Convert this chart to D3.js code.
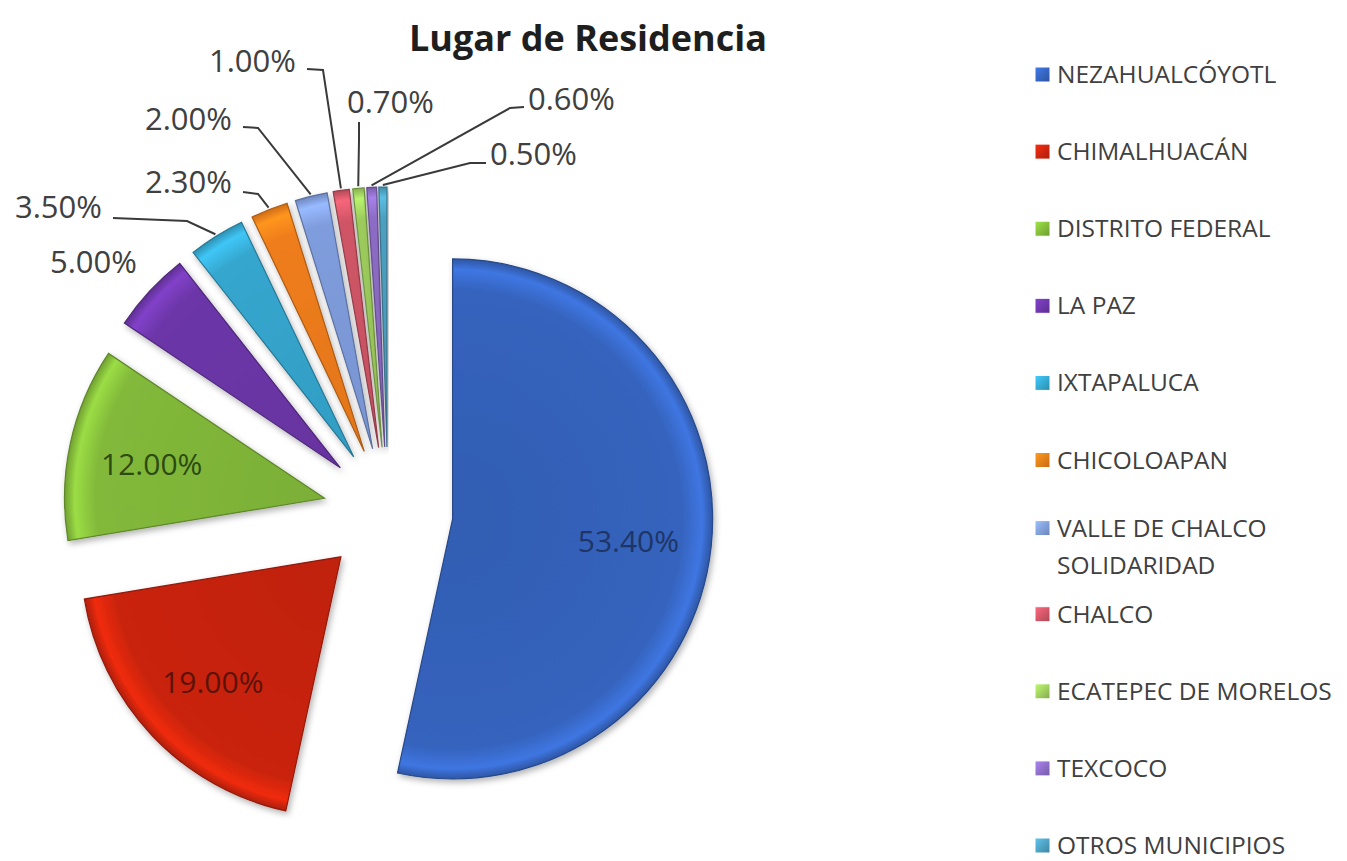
<!DOCTYPE html>
<html>
<head>
<meta charset="utf-8">
<script src="https://d3js.org/d3.v7.min.js"></script>
<style>
  body { margin: 0; background: #fff; }
  text { font-family: "Open Sans", "DejaVu Sans", sans-serif; }
</style>
</head>
<body>
<div id="pie_chart"></div>
<script>
// data
var categories = ["NEZAHUALCÓYOTL", "CHIMALHUACÁN", "DISTRITO FEDERAL", "LA PAZ", "IXTAPALUCA",
                  "CHICOLOAPAN", "VALLE DE CHALCO SOLIDARIDAD", "CHALCO", "ECATEPEC DE MORELOS",
                  "TEXCOCO", "OTROS MUNICIPIOS"];
var values = [53.4, 19.0, 12.0, 5.0, 3.5, 2.3, 2.0, 1.0, 0.7, 0.6, 0.5];
var colors = ["#3563bd", "#c9240e", "#82b93a", "#6c36a8", "#35a6ce", "#ef7d1a",
              "#7f9cdc", "#cf5566", "#9ccb5c", "#8c6cc4", "#4d9fbf"];
var legendLines = [["NEZAHUALCÓYOTL"], ["CHIMALHUACÁN"], ["DISTRITO FEDERAL"], ["LA PAZ"], ["IXTAPALUCA"],
                   ["CHICOLOAPAN"], ["VALLE DE CHALCO", "SOLIDARIDAD"], ["CHALCO"], ["ECATEPEC DE MORELOS"],
                   ["TEXCOCO"], ["OTROS MUNICIPIOS"]];

var width = 1347, height = 861;
var cx = 388, cy = 512, radius = 260, explode = 65;

// where the small labels sit: text x, baseline y, leader start + elbow (null = no leader)
var outsideLabels = {
  3: { x: 50, y: 273, line: null },
  4: { x: 15, y: 218, line: [[113, 218], [187, 221]] },
  5: { x: 145, y: 193, line: [[243, 192], [258, 194]] },
  6: { x: 145, y: 130, line: [[243, 127], [258, 128]] },
  7: { x: 209, y: 72, line: [[307, 69], [323, 70]] },
  8: { x: 347, y: 113, line: [[359, 122], [359, 140]] },
  9: { x: 528, y: 110, line: [[524, 107], [510, 108]] },
  10: { x: 490, y: 165, line: [[486, 163], [470, 163]] }
};

var svg = d3.select("#pie_chart")
            .append("svg")
            .attr("width", width)
            .attr("height", height);

var defs = svg.append("defs");
var shadow = defs.append("filter").attr("id", "shadow")
                 .attr("x", "-20%").attr("y", "-20%").attr("width", "140%").attr("height", "140%");
shadow.append("feDropShadow")
      .attr("dx", 2).attr("dy", 3).attr("stdDeviation", 3)
      .attr("flood-color", "#000").attr("flood-opacity", 0.3);

colors.forEach(function(c, i) {
  var grad = defs.append("radialGradient").attr("id", "grad" + i)
                 .attr("gradientUnits", "userSpaceOnUse")
                 .attr("cx", 0).attr("cy", 0).attr("r", radius);
  grad.append("stop").attr("offset", "0%").attr("stop-color", d3.color(c).darker(0.15));
  grad.append("stop").attr("offset", "88%").attr("stop-color", c);
  grad.append("stop").attr("offset", "96%").attr("stop-color", d3.color(c).brighter(0.5));
  grad.append("stop").attr("offset", "100%").attr("stop-color", d3.color(c).darker(0.4));
});

svg.append("text")
   .attr("x", 588)
   .attr("y", 51)
   .attr("text-anchor", "middle")
   .attr("font-weight", "bold")
   .attr("font-size", 36)
   .attr("fill", "#1e1e1e")
   .text("Lugar de Residencia");

var pie = d3.pie().sort(null).value(function(d) { return d; });
var arc = d3.arc().innerRadius(0).outerRadius(radius);
var arcs = pie(values);

function offset(d, dist) {
  var a = (d.startAngle + d.endAngle) / 2;
  return [Math.sin(a) * dist, -Math.cos(a) * dist];
}

var g = svg.append("g").attr("transform", "translate(" + cx + "," + cy + ")");

g.selectAll(".slice")
 .data(arcs)
 .enter().append("g")
 .attr("class", "slice")
 .attr("transform", function(d) {
   var o = offset(d, explode);
   return "translate(" + o[0] + "," + o[1] + ")";
 })
 .append("path")
 .attr("d", arc)
 .attr("fill", function(d, i) { return "url(#grad" + i + ")"; })
 .attr("stroke", function(d, i) { return d3.color(colors[i]).darker(0.9); })
 .attr("stroke-width", 1.2)
 .attr("filter", "url(#shadow)");

// labels inside the three big slices
var insideColors = ["#1e3565", "#5c1208", "#2c4a12"];
g.selectAll(".inlabel")
 .data(arcs.slice(0, 3))
 .enter().append("text")
 .attr("class", "inlabel")
 .attr("x", function(d) { return offset(d, explode + radius * 0.68)[0]; })
 .attr("y", function(d) { return offset(d, explode + radius * 0.68)[1] + 14; })
 .attr("text-anchor", "middle")
 .attr("font-size", 30)
 .attr("fill", function(d, i) { return insideColors[i]; })
 .text(function(d) { return d.data.toFixed(2) + "%"; });

// outside labels with leader lines
arcs.forEach(function(d, i) {
  var lab = outsideLabels[i];
  if (!lab) return;
  if (lab.line) {
    var tip = offset(d, explode + radius + 2);
    var pts = lab.line.concat([[cx + tip[0], cy + tip[1]]]);
    svg.append("path")
       .attr("d", d3.line()(pts))
       .attr("fill", "none")
       .attr("stroke", "#3a3a3a")
       .attr("stroke-width", 2);
  }
  svg.append("text")
     .attr("x", lab.x)
     .attr("y", lab.y)
     .attr("font-size", 31)
     .attr("fill", "#404040")
     .text(d.data.toFixed(2) + "%");
});

// legend
var legendY = d3.scaleLinear().domain([0, categories.length - 1]).range([75, 846]);
var legend = svg.selectAll(".legend")
                .data(categories)
                .enter().append("g")
                .attr("class", "legend")
                .attr("transform", function(d, i) {
                  var shift = legendLines[i].length > 1 ? -9 : 0;
                  return "translate(1035," + (legendY(i) + shift) + ")";
                });

colors.forEach(function(c, i) {
  var grad = defs.append("linearGradient").attr("id", "lg" + i)
                 .attr("x1", 0).attr("y1", 0).attr("x2", 1).attr("y2", 1);
  grad.append("stop").attr("offset", "0%").attr("stop-color", d3.color(c).brighter(0.6));
  grad.append("stop").attr("offset", "100%").attr("stop-color", d3.color(c).darker(0.5));
});

legend.append("rect")
      .attr("x", 0)
      .attr("y", -8)
      .attr("width", 15)
      .attr("height", 15)
      .attr("fill", function(d, i) { return "url(#lg" + i + ")"; })
      .attr("stroke", "#fff")
      .attr("stroke-width", 1);

legend.append("text")
      .attr("x", 22)
      .attr("y", 8)
      .attr("font-size", 24.5)
      .attr("fill", "#404040")
      .selectAll("tspan")
      .data(function(d, i) { return legendLines[i]; })
      .enter().append("tspan")
      .attr("x", 22)
      .attr("dy", function(d, j) { return j === 0 ? 0 : 37; })
      .text(function(d) { return d; });
</script>
</body>
</html>
